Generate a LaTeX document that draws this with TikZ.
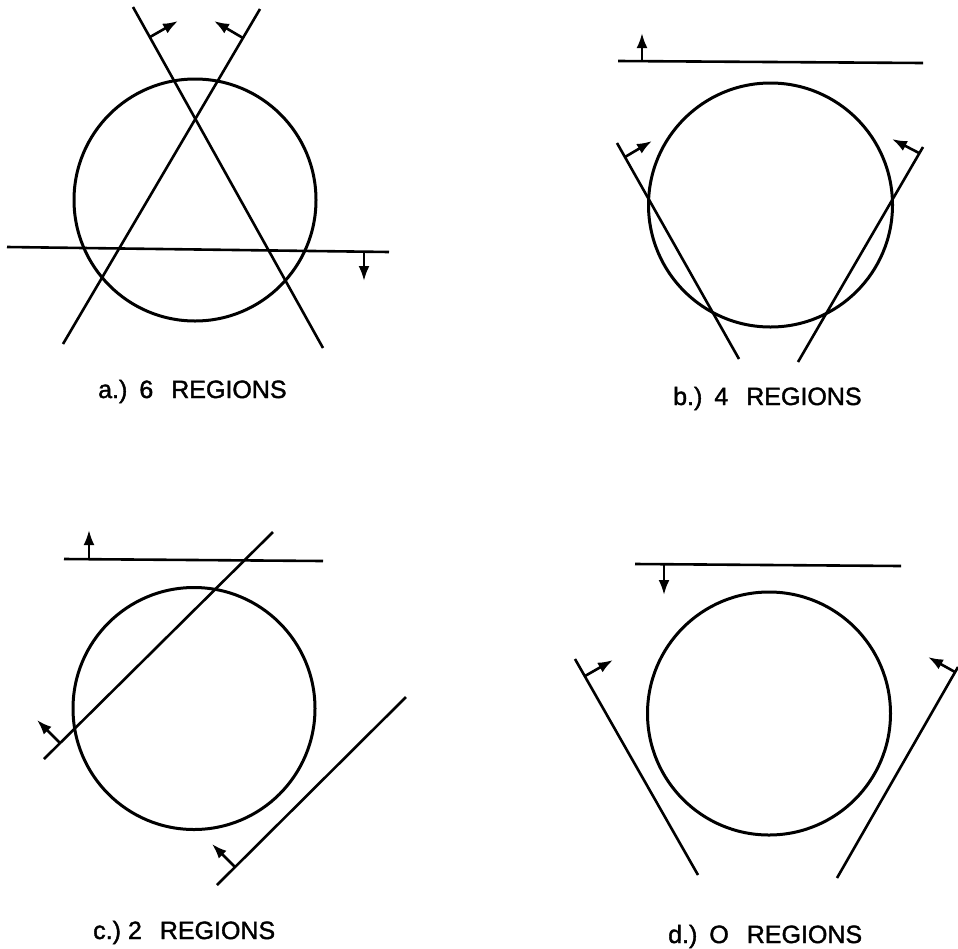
\documentclass[tikz,border=0pt]{standalone}
\usepackage{fontspec}
\setmainfont{Liberation Sans}
\newfontfamily\lettering[FakeBold=1.5]{Liberation Sans}
\usetikzlibrary{arrows.meta}
\begin{document}
\begin{tikzpicture}[x=1pt,y=-1pt,
  ln/.style={line width=2.6pt},
  ring/.style={line width=3pt},
  nrm/.style={line width=2.6pt,-{Latex[length=15pt,width=11pt]}},
  captxt/.style={anchor=base west,inner sep=0pt,font=\lettering\fontsize{25}{25}\selectfont}]
\useasboundingbox (0,0) rectangle (958,948);
% ---------- a.) ----------
\draw[ring] (195,200) circle[radius=121];
\coordinate (a1s) at (133,7);   \coordinate (a1e) at (323,348);
\coordinate (a2s) at (260,9);   \coordinate (a2e) at (63,344);
\coordinate (a3s) at (7,247);   \coordinate (a3e) at (389,252);
\draw[ln] (a1s) -- (a1e);
\draw[ln] (a2s) -- (a2e);
\draw[ln] (a3s) -- (a3e);
\coordinate (a1b) at (150,37);  \coordinate (a1t) at (178,21);
\coordinate (a2b) at (243,38);  \coordinate (a2t) at (214,21);
\coordinate (a3b) at (364,252); \coordinate (a3t) at (364,281);
\draw[nrm] (a1b) -- (a1t);
\draw[nrm] (a2b) -- (a2t);
\draw[nrm] (a3b) -- (a3t);
\node[captxt] (capa) at (98,398) {a.)\hspace{12pt}6\hspace{18pt}REGIONS};
% ---------- b.) ----------
\draw[ring] (770.5,205) circle[radius=122];
\coordinate (b1s) at (618,61);  \coordinate (b1e) at (923,63);
\coordinate (b2s) at (617,143); \coordinate (b2e) at (739,359);
\coordinate (b3s) at (923,147); \coordinate (b3e) at (798,362);
\draw[ln] (b1s) -- (b1e);
\draw[ln] (b2s) -- (b2e);
\draw[ln] (b3s) -- (b3e);
\coordinate (b1b) at (642,61);  \coordinate (b1t) at (642,33);
\coordinate (b2b) at (625,157); \coordinate (b2t) at (652,141);
\coordinate (b3b) at (919,153); \coordinate (b3t) at (892,139);
\draw[nrm] (b1b) -- (b1t);
\draw[nrm] (b2b) -- (b2t);
\draw[nrm] (b3b) -- (b3t);
\node[captxt] (capb) at (673,405) {b.)\hspace{12pt}4\hspace{18pt}REGIONS};
% ---------- c.) ----------
\draw[ring] (194,708.5) circle[radius=121];
\coordinate (c1s) at (64,559);  \coordinate (c1e) at (323,561);
\coordinate (c2s) at (273,532); \coordinate (c2e) at (44,759);
\coordinate (c3s) at (406,697); \coordinate (c3e) at (217,885);
\draw[ln] (c1s) -- (c1e);
\draw[ln] (c2s) -- (c2e);
\draw[ln] (c3s) -- (c3e);
\coordinate (c1b) at (89,559);  \coordinate (c1t) at (89,530);
\coordinate (c2b) at (60,743);  \coordinate (c2t) at (37,720);
\coordinate (c3b) at (235,867); \coordinate (c3t) at (212,844);
\draw[nrm] (c1b) -- (c1t);
\draw[nrm] (c2b) -- (c2t);
\draw[nrm] (c3b) -- (c3t);
\node[captxt] (capc) at (93,939) {c.)\hspace{7pt}2\hspace{18pt}REGIONS};
% ---------- d.) ----------
\draw[ring] (769,713.5) circle[radius=121.5];
\coordinate (d1s) at (635,564); \coordinate (d1e) at (901,566);
\coordinate (d2s) at (575,659); \coordinate (d2e) at (698,875);
\coordinate (d3s) at (958,667); \coordinate (d3e) at (837,878);
\draw[ln] (d1s) -- (d1e);
\draw[ln] (d2s) -- (d2e);
\draw[ln] (d3s) -- (d3e);
\coordinate (d1b) at (664,564); \coordinate (d1t) at (664,595);
\coordinate (d2b) at (585,676); \coordinate (d2t) at (613,660);
\coordinate (d3b) at (955,672); \coordinate (d3t) at (928,657);
\draw[nrm] (d1b) -- (d1t);
\draw[nrm] (d2b) -- (d2t);
\draw[nrm] (d3b) -- (d3t);
\node[captxt] (capd) at (668,943) {d.)\hspace{12pt}O\hspace{18pt}REGIONS};
\end{tikzpicture}
\end{document}
